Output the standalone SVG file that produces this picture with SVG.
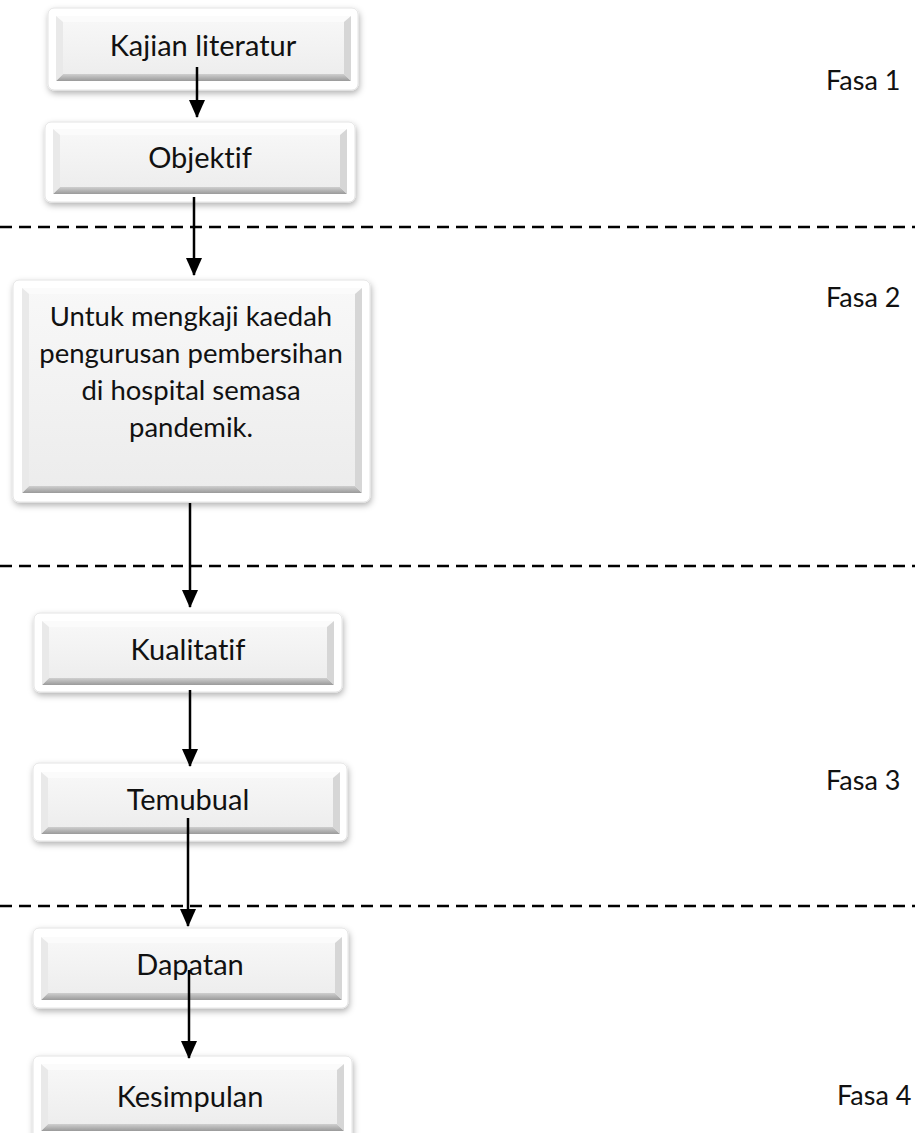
<svg xmlns="http://www.w3.org/2000/svg" width="915" height="1133" viewBox="0 0 915 1133">
<style>
.frame{fill:#ffffff;stroke:#e4e4e4;stroke-width:1}
.face{fill:url(#faceG)}
.bt{fill:#fbfbfb}
.bb{fill:url(#botG)}
.bl{fill:#e9e9e9}
.br{fill:#d6d6d6}
.lbl{font-family:Lato,"Liberation Sans",sans-serif;font-size:29px;fill:#111;text-anchor:middle;font-variant-ligatures:none;font-feature-settings:"liga" 0}
.lbl2{font-size:27.5px}
.fasa{font-family:Lato,"Liberation Sans",sans-serif;font-size:27px;fill:#111}
.dash{stroke:#000;stroke-width:2.5;stroke-dasharray:12 7;fill:none}
.arr{stroke:#000;stroke-width:2.5;fill:none;marker-end:url(#ah)}
</style>
<defs>
<linearGradient id="faceG" x1="0" y1="0" x2="0" y2="1">
<stop offset="0" stop-color="#f8f8f8"/><stop offset="1" stop-color="#ececec"/>
</linearGradient>
<linearGradient id="botG" x1="0" y1="0" x2="0" y2="1">
<stop offset="0" stop-color="#cfcfcf"/><stop offset="1" stop-color="#9a9a9a"/>
</linearGradient>
<filter id="sh" x="-10%" y="-20%" width="130%" height="150%">
<feDropShadow dx="1" dy="3" stdDeviation="3" flood-color="#000" flood-opacity="0.3"/>
</filter>
<marker id="ah" markerUnits="userSpaceOnUse" markerWidth="18" markerHeight="16" viewBox="0 0 18 16" refX="17" refY="8" orient="auto">
<path d="M0,0 L18,8 L0,16 Z" fill="#000"/>
</marker>
</defs>

<g id="separators">
<line class="dash" x1="0" y1="227" x2="915" y2="227"/>
<line class="dash" x1="0" y1="566" x2="915" y2="566"/>
<line class="dash" x1="0" y1="906" x2="915" y2="906"/>
</g>

<g id="n1">
<rect class="frame" x="48" y="8" width="310" height="82" rx="6" filter="url(#sh)"/>
<rect class="face" x="56" y="16" width="295" height="65"/>
<polygon class="bt" points="56,16 351,16 344,22 63,22"/>
<polygon class="bb" points="56,81 351,81 344,74 63,74"/>
<polygon class="bl" points="56,16 63,22 63,74 56,81"/>
<polygon class="br" points="351,16 344,22 344,74 351,81"/>
<text class="lbl" x="203" y="56">Kajian literatur</text>
</g>

<g id="n2">
<rect class="frame" x="45" y="122" width="310" height="80" rx="6" filter="url(#sh)"/>
<rect class="face" x="53" y="129" width="294" height="65"/>
<polygon class="bt" points="53,129 347,129 340,135 60,135"/>
<polygon class="bb" points="53,194 347,194 340,187 60,187"/>
<polygon class="bl" points="53,129 60,135 60,187 53,194"/>
<polygon class="br" points="347,129 340,135 340,187 347,194"/>
<text class="lbl" x="200" y="168">Objektif</text>
</g>

<g id="n3">
<rect class="frame" x="13" y="280" width="357" height="222" rx="6" filter="url(#sh)"/>
<rect class="face" x="22" y="288" width="340" height="205"/>
<polygon class="bt" points="22,288 362,288 355,294 29,294"/>
<polygon class="bb" points="22,493 362,493 355,486 29,486"/>
<polygon class="bl" points="22,288 29,294 29,486 22,493"/>
<polygon class="br" points="362,288 355,294 355,486 362,493"/>
<text class="lbl lbl2" x="191" y="326">Untuk mengkaji kaedah</text>
<text class="lbl lbl2" x="191" y="363">pengurusan pembersihan</text>
<text class="lbl lbl2" x="191" y="400">di hospital semasa</text>
<text class="lbl lbl2" x="191" y="437">pandemik.</text>
</g>

<g id="n4">
<rect class="frame" x="34" y="613" width="308" height="79" rx="6" filter="url(#sh)"/>
<rect class="face" x="42" y="621" width="292" height="64"/>
<polygon class="bt" points="42,621 334,621 327,627 49,627"/>
<polygon class="bb" points="42,685 334,685 327,678 49,678"/>
<polygon class="bl" points="42,621 49,627 49,678 42,685"/>
<polygon class="br" points="334,621 327,627 327,678 334,685"/>
<text class="lbl" x="188" y="660">Kualitatif</text>
</g>

<g id="n5">
<rect class="frame" x="33" y="763" width="314" height="78" rx="6" filter="url(#sh)"/>
<rect class="face" x="41" y="772" width="299" height="62"/>
<polygon class="bt" points="41,772 340,772 333,778 48,778"/>
<polygon class="bb" points="41,834 340,834 333,827 48,827"/>
<polygon class="bl" points="41,772 48,778 48,827 41,834"/>
<polygon class="br" points="340,772 333,778 333,827 340,834"/>
<text class="lbl" x="188" y="810">Temubual</text>
</g>

<g id="n6">
<rect class="frame" x="33" y="928" width="315" height="80" rx="6" filter="url(#sh)"/>
<rect class="face" x="41" y="937" width="301" height="63"/>
<polygon class="bt" points="41,937 342,937 335,943 48,943"/>
<polygon class="bb" points="41,1000 342,1000 335,993 48,993"/>
<polygon class="bl" points="41,937 48,943 48,993 41,1000"/>
<polygon class="br" points="342,937 335,943 335,993 342,1000"/>
<text class="lbl" x="190" y="975">Dapatan</text>
</g>

<g id="n7">
<rect class="frame" x="33" y="1056" width="319" height="90" rx="6" filter="url(#sh)"/>
<rect class="face" x="41" y="1064" width="303" height="67"/>
<polygon class="bt" points="41,1064 344,1064 337,1070 48,1070"/>
<polygon class="bb" points="41,1131 344,1131 337,1124 48,1124"/>
<polygon class="bl" points="41,1064 48,1070 48,1124 41,1131"/>
<polygon class="br" points="344,1064 337,1070 337,1124 344,1131"/>
<text class="lbl" x="190" y="1107">Kesimpulan</text>
</g>

<g id="connectors">
<line class="arr" x1="197" y1="67" x2="197" y2="117"/>
<line class="arr" x1="194" y1="197" x2="194" y2="275"/>
<line class="arr" x1="190" y1="503" x2="190" y2="607"/>
<line class="arr" x1="190" y1="690" x2="190" y2="766"/>
<line class="arr" x1="188" y1="818" x2="188" y2="926"/>
<line class="arr" x1="189" y1="970" x2="189" y2="1058"/>
</g>

<g id="phases">
<text class="fasa" x="826" y="90">Fasa 1</text>
<text class="fasa" x="826" y="307">Fasa 2</text>
<text class="fasa" x="826" y="790">Fasa 3</text>
<text class="fasa" x="837" y="1105">Fasa 4</text>
</g>
</svg>
